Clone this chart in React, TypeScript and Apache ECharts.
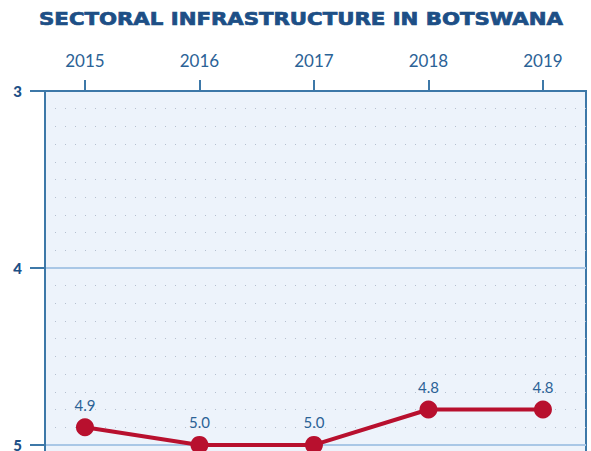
import React, { useEffect, useRef } from "react";
import * as echarts from "echarts";

const years = [2015, 2016, 2017, 2018, 2019];
const values = [4.9, 5.0, 5.0, 4.8, 4.8];
const yTicks = [3, 4, 5];
const title = "SECTORAL INFRASTRUCTURE IN BOTSWANA";

const NAVY = "#1d4f86";
const AXIS = "#3d78a8";
const LABEL = "#2b6296";
const RED = "#b8102e";

export default function App() {
  const ref = useRef<HTMLDivElement>(null);
  useEffect(() => {
    const chart = echarts.init(ref.current!, null, { renderer: "svg" });
    chart.setOption({
      animation: false,
      graphic: [
        {
          type: "text",
          x: 301,
          y: 19,
          scaleX: 1.25,
          style: {
            text: title,
            fontFamily: "DejaVu Sans",
            fontSize: 17,
            fontWeight: "bold",
            fill: NAVY,
            stroke: NAVY,
            lineWidth: 0.7,
            align: "center",
            verticalAlign: "middle",
          },
        },
      ],
      grid: {
        left: 45,
        right: 5,
        top: 91,
        height: 407,
        show: true,
        backgroundColor: "#edf3fb",
        borderColor: AXIS,
        borderWidth: 2,
      },
      xAxis: {
        type: "value",
        position: "top",
        min: 2014.651,
        max: 2019.376,
        axisLine: { show: true, lineStyle: { color: AXIS, width: 2 } },
        axisTick: {
          show: true,
          customValues: years,
          length: 11,
          lineStyle: { color: AXIS, width: 2 },
        },
        axisLabel: {
          customValues: years,
          formatter: (v: number) => String(Math.round(v)),
          margin: 22,
          fontFamily: "Lato",
          fontSize: 17,
          color: LABEL,
        },
        splitLine: { show: false },
      },
      yAxis: {
        type: "value",
        inverse: true,
        min: 3,
        max: 5.3,
        interval: 1,
        axisLine: { show: true, lineStyle: { color: AXIS, width: 2 } },
        axisTick: {
          show: true,
          length: 15,
          lineStyle: { color: AXIS, width: 2 },
        },
        axisLabel: {
          margin: 23,
          fontFamily: "Lato",
          fontSize: 15,
          fontWeight: 900,
          color: NAVY,
          formatter: (v: number) => (yTicks.includes(v) ? String(v) : ""),
        },
        splitLine: { show: true, lineStyle: { color: "#a9c7e6", width: 2 } },
        minorTick: { show: false, splitNumber: 10 },
        minorSplitLine: {
          show: true,
          lineStyle: { color: "#b5c0d0", width: 1, type: [1, 9] },
        },
      },
      series: [
        {
          type: "line",
          data: years.map((y, i) => [y, values[i]]),
          symbol: "circle",
          symbolSize: 18,
          lineStyle: { color: RED, width: 4 },
          itemStyle: { color: RED },
          label: {
            show: true,
            position: "top",
            distance: 6,
            fontFamily: "Lato",
            fontSize: 15,
            color: LABEL,
            formatter: (p: any) => Number(p.value[1]).toFixed(1),
          },
        },
      ],
    });
    return () => chart.dispose();
  }, []);
  return (
    <div
      ref={ref}
      style={{ position: "fixed", left: 0, top: 0, width: 591, height: 520, background: "#ffffff" }}
    />
  );
}
